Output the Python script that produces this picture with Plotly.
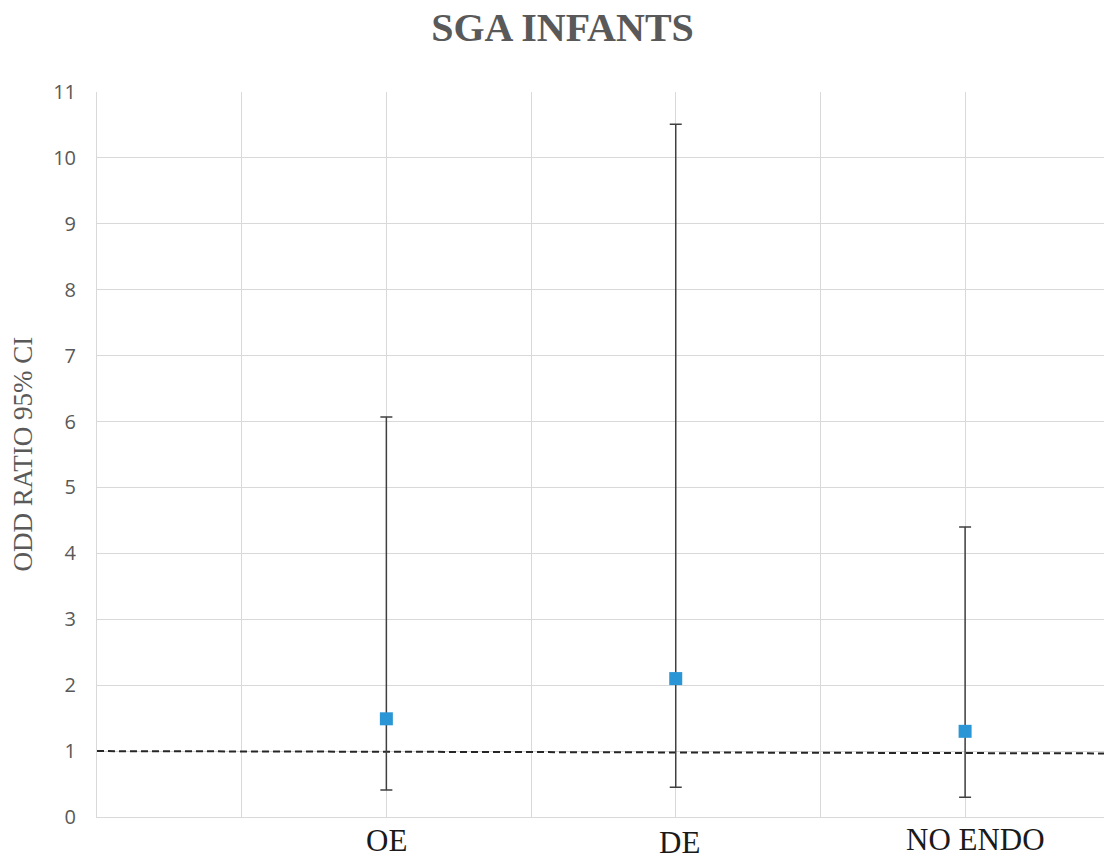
import plotly.graph_objects as go

# ---- data ----
categories = ["OE", "DE", "NO ENDO"]
x_pos = [2, 4, 6]
odds_ratio = [1.49, 2.10, 1.30]
ci_upper = [6.07, 10.51, 4.40]
ci_lower = [0.41, 0.45, 0.30]
ref_x = [0, 6.96]
ref_y = [1.0, 0.965]
y_ticks = list(range(0, 12))

err_plus = [u - v for u, v in zip(ci_upper, odds_ratio)]
err_minus = [v - l for v, l in zip(odds_ratio, ci_lower)]

fig = go.Figure()

fig.add_trace(go.Scatter(
    x=ref_x, y=ref_y, mode="lines",
    line=dict(color="#262626", width=2, dash="7px,4px"),
    hoverinfo="skip", showlegend=False,
))

fig.add_trace(go.Scatter(
    x=x_pos, y=odds_ratio, mode="markers",
    marker=dict(symbol="square", size=13, color="#2B96D6"),
    error_y=dict(type="data", symmetric=False, array=err_plus, arrayminus=err_minus,
                 color="#404040", thickness=1.5, width=6),
    showlegend=False,
))

grid = "#D9D9D9"
fig.update_layout(
    width=1104, height=854,
    margin=dict(l=97, r=0, t=92, b=37, autoexpand=False),
    paper_bgcolor="white", plot_bgcolor="white",
    showlegend=False,
    title=dict(text="<b>SGA INFANTS</b>", xref="container", x=0.5095, xanchor="center",
               yref="container", y=0.968, yanchor="middle",
               font=dict(family="Liberation Serif", size=40, color="#595959")),
    xaxis=dict(range=[0, 6.96], dtick=1, tick0=0, showgrid=True, gridcolor=grid, gridwidth=1,
               showticklabels=False, zeroline=False, showline=True, linecolor=grid, linewidth=1,
               automargin=False, fixedrange=True),
    yaxis=dict(range=[0, 11], tickvals=y_ticks, ticktext=[str(t) for t in y_ticks],
               showgrid=True, gridcolor=grid, gridwidth=1, zeroline=False,
               showline=True, linecolor=grid, linewidth=1,
               tickfont=dict(family="Open Sans", size=20, color="#595959"),
               ticklabelstandoff=16, automargin=False, fixedrange=True),
)

# category labels
label_xshift = [0, 4, 10]
label_yshift = [-4, -6, -3]
for cat, xp, xs, ys in zip(categories, x_pos, label_xshift, label_yshift):
    fig.add_annotation(x=xp, y=0, xref="x", yref="paper", text=cat, showarrow=False,
                       xanchor="center", yanchor="top", xshift=xs, yshift=ys,
                       font=dict(family="Liberation Serif", size=31, color="#1a1a1a"))

# y axis title
fig.add_annotation(x=0, y=0.5, xref="paper", yref="paper", text="ODD RATIO 95% CI",
                   textangle=-90, showarrow=False, xanchor="center", yanchor="middle",
                   xshift=-75, font=dict(family="Liberation Serif", size=27, color="#595959"))

fig.write_html("out.html", config={"displayModeBar": False},
               post_script="document.body.style.margin='0';document.body.style.overflow='hidden';")
